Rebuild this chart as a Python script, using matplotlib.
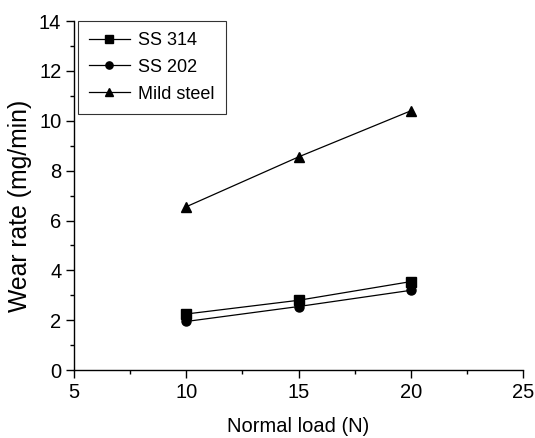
import matplotlib
matplotlib.use("Agg")
import matplotlib.pyplot as plt
from matplotlib.ticker import MultipleLocator

plt.rcParams["font.family"] = ["Liberation Sans", "DejaVu Sans"]

# dane
obciazenie = [10, 15, 20]
ss314 = [2.25, 2.8, 3.55]
ss202 = [1.95, 2.55, 3.2]
mild_steel = [6.55, 8.55, 10.4]

fig = plt.figure(figsize=(5.35, 4.38), dpi=100)
ax = fig.add_axes([0.138, 0.155, 0.84, 0.797])

ax.plot(obciazenie, ss314, color="black", lw=0.9, marker="s", ms=6.5, label="SS 314")
ax.plot(obciazenie, ss202, color="black", lw=0.9, marker="o", ms=6.5, label="SS 202")
ax.plot(obciazenie, mild_steel, color="black", lw=0.9, marker="^", ms=7, label="Mild steel")

ax.set_xlim(5, 25)
ax.set_ylim(0, 14)
ax.xaxis.set_major_locator(MultipleLocator(5))
ax.xaxis.set_minor_locator(MultipleLocator(2.5))
ax.yaxis.set_major_locator(MultipleLocator(2))
ax.yaxis.set_minor_locator(MultipleLocator(1))

for s in ["top", "right"]:
    ax.spines[s].set_visible(False)
for s in ["left", "bottom"]:
    ax.spines[s].set_linewidth(1.0)

ax.tick_params(which="major", direction="out", length=6, width=1, labelsize=14.5, pad=3)
ax.tick_params(which="minor", direction="out", length=3, width=1)

ax.set_xlabel("Normal load (N)", fontsize=14.5, labelpad=11)
ax.set_ylabel("Wear rate (mg/min)", fontsize=17.8)
ax.yaxis.set_label_coords(-0.093, 0.47)

leg = ax.legend(loc="upper left", bbox_to_anchor=(0.009, 1.0), fontsize=13,
                frameon=True, fancybox=False, edgecolor="black",
                handlelength=2.3, handletextpad=0.45, borderpad=0.6,
                labelspacing=0.55, borderaxespad=0.0, markerscale=0.8)
leg.get_frame().set_linewidth(0.8)

fig.savefig("out.png", dpi=100)
